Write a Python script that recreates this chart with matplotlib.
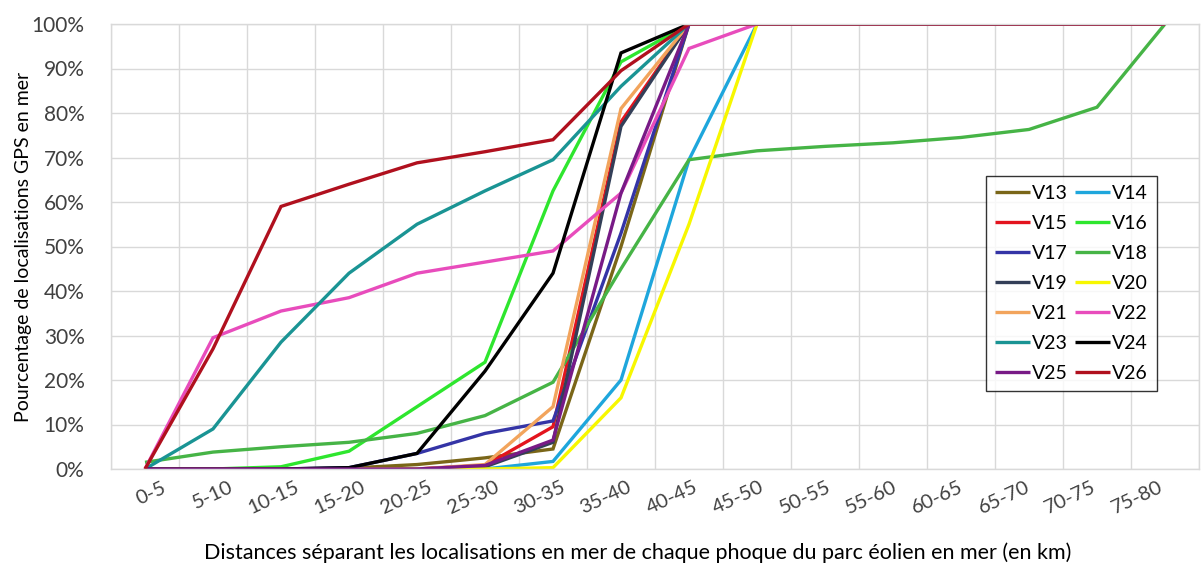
import matplotlib
matplotlib.use("Agg")
import matplotlib.pyplot as plt

plt.rcParams['font.family'] = ['Lato', 'DejaVu Sans']

categories = ["0-5", "5-10", "10-15", "15-20", "20-25", "25-30", "30-35", "35-40",
              "40-45", "45-50", "50-55", "55-60", "60-65", "65-70", "70-75", "75-80"]

full = [100] * 6  # 50-55 .. 75-80 plateau for series already complete

v13 = [0, 0, 0, 0.2, 1.0, 2.5, 4.5, 50, 100, 100] + full
v14 = [0, 0, 0, 0, 0, 0, 1.7, 20, 69.5, 100] + full
v15 = [0, 0, 0, 0, 0, 0.8, 9.5, 78, 100, 100] + full
v16 = [0, 0, 0.5, 4, 14, 24, 62.5, 91.5, 100, 100] + full
v17 = [0, 0, 0, 0.3, 3.5, 8, 10.8, 53, 100, 100] + full
v18 = [1.5, 3.8, 5, 6, 8, 12, 19.5, 45, 69.5, 71.5, 72.5, 73.3, 74.5, 76.3, 81.3, 100]
v19 = [0, 0, 0, 0, 0, 0.5, 6, 77, 100, 100] + full
v20 = [0, 0, 0, 0, 0, 0, 0.3, 16, 55, 100] + full
v21 = [0, 0, 0, 0, 0, 1, 14, 81, 100, 100] + full
v22 = [0, 29.5, 35.5, 38.5, 44, 46.5, 49, 62, 94.5, 100] + full
v23 = [0, 9, 28.5, 44, 55, 62.5, 69.5, 86, 100, 100] + full
v24 = [0, 0, 0, 0.3, 3.5, 22, 44, 93.5, 100, 100] + full
v25 = [0, 0, 0, 0, 0, 0.8, 6.5, 62, 100, 100] + full
v26 = [0, 27, 59, 64, 68.8, 71.3, 74, 89.5, 100, 100] + full

names = ["V13", "V14", "V15", "V16", "V17", "V18", "V19",
         "V20", "V21", "V22", "V23", "V24", "V25", "V26"]
series = [v13, v14, v15, v16, v17, v18, v19, v20, v21, v22, v23, v24, v25, v26]
colors = ["#7a6618", "#1ea6dc", "#e3141e", "#2ee62e", "#3434a6", "#46b446",
          "#333f58", "#f7f700", "#f2a45c", "#e84cbc", "#1a9494", "#000000",
          "#781a86", "#b0101e"]

fig = plt.figure(figsize=(12.02, 5.69), dpi=100)
ax = fig.add_axes([111 / 1202, 1 - 469 / 569, (1199 - 111) / 1202, (469 - 24) / 569])

x = list(range(len(categories)))
handles = {}
for name, vals, col in zip(names, series, colors):
    ln, = ax.plot(x, vals, color=col, lw=2.4, solid_joinstyle='miter',
                  solid_capstyle='butt')
    handles[name] = ln

ax.set_xlim(-0.5, len(categories) - 0.5)
ax.set_ylim(0, 100)
ax.set_yticks(range(0, 101, 10))
ax.set_yticklabels([f"{t}%" for t in range(0, 101, 10)], fontsize=15, color="#404040")

# category labels: drawn as rotated annotations hanging below each slot
ax.set_xticks(x)
ax.set_xticklabels([])
for i, cat in enumerate(categories):
    dx_px = 17 - 1.6 * i
    ax.annotate(cat, xy=(i, 0), xycoords=('data', 'axes fraction'),
                xytext=(dx_px * 0.72, -7), textcoords='offset points',
                rotation=25, ha='right', va='top', rotation_mode='anchor',
                fontsize=14.5, color="#404040", annotation_clip=False)

ax.set_xticks([i - 0.5 for i in x] + [len(categories) - 0.5], minor=True)
ax.tick_params(axis='both', which='both', length=0)
ax.tick_params(axis='y', pad=19)
ax.grid(axis='y', which='major', color="#d9d9d9", lw=1)
ax.grid(axis='x', which='minor', color="#d9d9d9", lw=1)
ax.set_axisbelow(True)
for s in ax.spines.values():
    s.set_color("#d9d9d9")
    s.set_linewidth(1)

ax.set_ylabel("Pourcentage de localisations GPS en mer", fontsize=14, labelpad=0)
ax.set_xlabel("Distances séparant les localisations en mer de chaque phoque du parc éolien en mer (en km)",
              fontsize=15.5)
ax.xaxis.set_label_coords((638 - 111) / 1088, -0.166)

order = ["V13", "V15", "V17", "V19", "V21", "V23", "V25",
         "V14", "V16", "V18", "V20", "V22", "V24", "V26"]
leg = fig.legend([handles[n] for n in order], order, ncol=2,
                 loc='upper left', bbox_to_anchor=(986 / 1202, 1 - 176 / 569),
                 fontsize=14, frameon=True, fancybox=False, handlelength=1.8,
                 handletextpad=0.1, columnspacing=0.4, labelspacing=0.67,
                 borderpad=0.45, borderaxespad=0)
leg.get_frame().set_edgecolor("black")
leg.get_frame().set_linewidth(1)

fig.savefig("out.png", dpi=100)
